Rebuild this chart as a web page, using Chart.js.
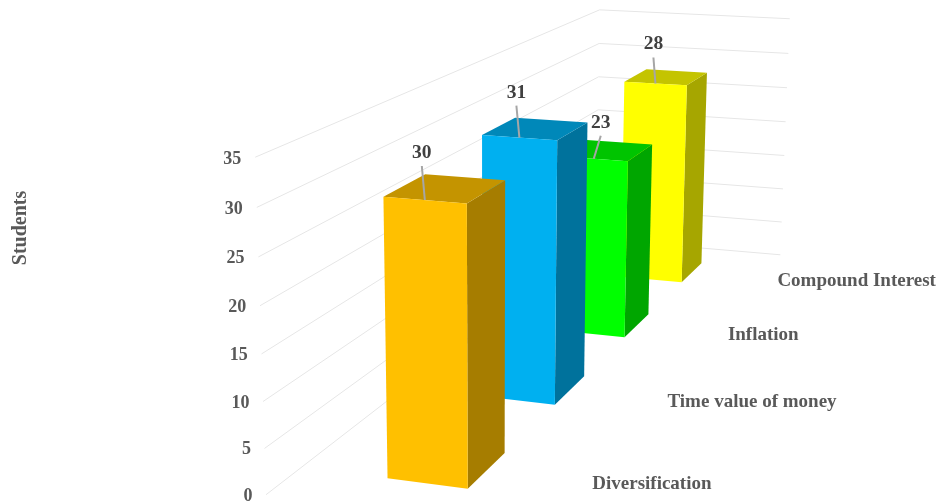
<!DOCTYPE html>
<html lang="en">
  <head>
    <meta charset="UTF-8" />
    <title>Students by topic</title>
    <style>
      html, body { margin: 0; padding: 0; background: #fff; }
      canvas { display: block; }
    </style>
    <script src="https://cdn.jsdelivr.net/npm/chart.js"></script>
  </head>
  <body>
    <canvas id="chart" width="938" height="502"></canvas>

    <script>
      // chart data
      const categories = ["Diversification", "Time value of money", "Inflation", "Compound Interest"];
      const students = [30, 31, 23, 28];
      const barColors = ["#FFC000", "#00B0F0", "#00FF00", "#FFFF00"];
      const yMax = 35;
      const yStep = 5;

      // camera: world (lateral, value, depth) to canvas pixels
      const camU = [74.22854, -0.63135, 155.14212, 427.36466];
      const camV = [3.72254, -9.70512, -33.41813, 483.43047];
      const camW = [-0.014009, -0.001287, 0.123739, 1];
      const project = (a, b, c) => {
        const w = camW[0] * a + camW[1] * b + camW[2] * c + camW[3];
        return [
          (camU[0] * a + camU[1] * b + camU[2] * c + camU[3]) / w,
          (camV[0] * a + camV[1] * b + camV[2] * c + camV[3]) / w,
        ];
      };

      // box and room proportions in world units
      const barHalf = 0.5;
      const barDepth = 0.395;
      const room = { left: -1.6, right: 1.6, front: -0.3, back: 3.7 };

      // data label position relative to the top of each bar's front face
      const labelShift = [[-3, -47], [-3, -45], [7, -36], [-2, -39]];

      const serif = "'Liberation Serif', 'Times New Roman', serif";
      const axisGray = "#595959";

      // read the library's scales back as world coordinates
      const depthOf = (x, i) => (x.getPixelForValue(i) - x.left) / (x.width / categories.length) - 0.5;
      const heightOf = (y, v) => ((y.bottom - y.getPixelForValue(v)) / y.height) * yMax;

      function shade(hex, f) {
        const n = parseInt(hex.slice(1), 16);
        const c = [n >> 16, (n >> 8) & 255, n & 255].map((v) => Math.round(v * f));
        return `rgb(${c.join(",")})`;
      }

      function poly(ctx, pts, color) {
        ctx.fillStyle = color;
        ctx.beginPath();
        pts.forEach((p, i) => (i ? ctx.lineTo(p[0], p[1]) : ctx.moveTo(p[0], p[1])));
        ctx.closePath();
        ctx.fill();
      }

      // bar controller that draws each value as a box, far bars first
      class Bar3DController extends Chart.BarController {
        draw() {
          const ctx = this.chart.ctx;
          const meta = this._cachedMeta;
          const colors = this.getDataset().backgroundColor;
          for (let i = meta.data.length - 1; i >= 0; i--) {
            const z = depthOf(meta.iScale, i);
            const h = heightOf(meta.vScale, this.getParsed(i).y);
            const l = -barHalf, r = barHalf, z2 = z + barDepth;
            poly(ctx, [project(r, 0, z), project(r, 0, z2), project(r, h, z2), project(r, h, z)], shade(colors[i], 0.65));
            poly(ctx, [project(l, h, z), project(r, h, z), project(r, h, z2), project(l, h, z2)], shade(colors[i], 0.77));
            poly(ctx, [project(l, 0, z), project(r, 0, z), project(r, h, z), project(l, h, z)], colors[i]);
          }
        }
      }
      Bar3DController.id = "bar3d";
      Bar3DController.defaults = Chart.BarController.defaults;
      Bar3DController.overrides = Chart.BarController.overrides;
      Chart.register(Bar3DController);

      const roomPlugin = {
        id: "room",
        // gridlines on the side and back walls
        beforeDatasetsDraw(chart) {
          const { ctx, scales } = chart;
          ctx.save();
          ctx.strokeStyle = "#E6E6E6";
          ctx.lineWidth = 1;
          scales.y.ticks.forEach((t) => {
            const h = heightOf(scales.y, t.value);
            const pts = [
              project(room.left, h, room.front),
              project(room.left, h, room.back),
              project(room.right, h, room.back),
            ];
            ctx.beginPath();
            pts.forEach((p, i) => (i ? ctx.lineTo(p[0], p[1]) : ctx.moveTo(p[0], p[1])));
            ctx.stroke();
          });
          ctx.restore();
        },
        // tick, category and data labels
        afterDatasetsDraw(chart) {
          const { ctx, scales } = chart;
          ctx.save();
          ctx.textBaseline = "middle";

          ctx.font = `bold 18px ${serif}`;
          ctx.fillStyle = axisGray;
          ctx.textAlign = "right";
          scales.y.ticks.forEach((t) => {
            const p = project(-1.77, heightOf(scales.y, t.value), room.front);
            ctx.fillText(t.label, p[0], p[1] + 3);
          });

          ctx.font = `bold 19px ${serif}`;
          ctx.textAlign = "left";
          categories.forEach((name, i) => {
            const z = depthOf(scales.x, i);
            const p = project(1.79 + 0.033 * z, 0, z + 0.21);
            ctx.fillText(name, p[0], p[1] + 1.5);
          });

          ctx.textAlign = "center";
          ctx.font = `bold 19.5px ${serif}`;
          students.forEach((v, i) => {
            const a = project(0, heightOf(scales.y, v), depthOf(scales.x, i));
            const lx = a[0] + labelShift[i][0];
            const ly = a[1] + labelShift[i][1];
            ctx.strokeStyle = "#A6A6A6";
            ctx.lineWidth = 2;
            ctx.beginPath();
            ctx.moveTo(lx, ly + 13);
            ctx.lineTo(a[0], a[1]);
            ctx.stroke();
            ctx.fillStyle = "#404040";
            ctx.fillText(String(v), lx, ly);
          });
          ctx.restore();
        },
      };

      new Chart(document.getElementById("chart"), {
        type: "bar3d",
        data: {
          labels: categories,
          datasets: [{ label: "Students", data: students, backgroundColor: barColors, clip: false }],
        },
        options: {
          responsive: false,
          animation: false,
          layout: { padding: { left: 9, right: 0, top: 0, bottom: 46 } },
          plugins: { legend: { display: false }, tooltip: { enabled: false } },
          scales: {
            x: { display: false },
            y: {
              min: 0,
              max: yMax,
              ticks: { display: false, stepSize: yStep },
              grid: { display: false },
              border: { display: false },
              title: {
                display: true,
                text: "Students",
                color: axisGray,
                font: { family: serif, size: 20, weight: "bold" },
                padding: 0,
              },
            },
          },
        },
        plugins: [roomPlugin],
      });
    </script>
  </body>
</html>
